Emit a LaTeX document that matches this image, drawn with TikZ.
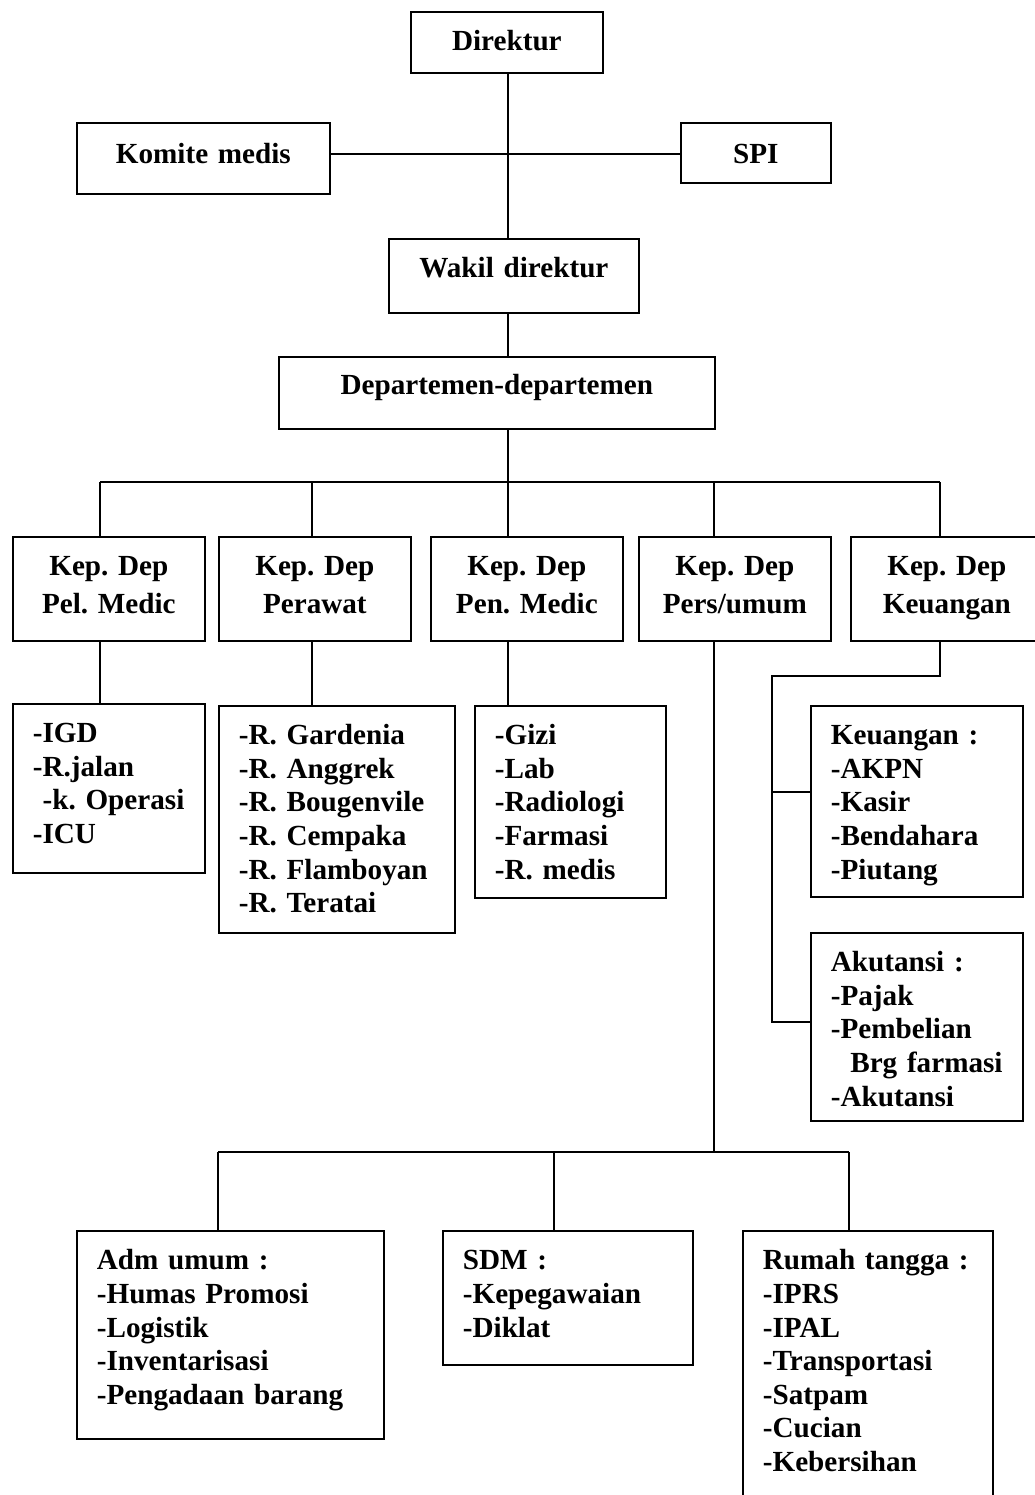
\documentclass[tikz,border=0pt]{standalone}
\usepackage{fontspec}
\setmainfont{Liberation Serif}
\tikzset{
  box/.style={draw, line width=1pt, anchor=north west, align=center, inner sep=0pt},
  lst/.style 2 args={draw, line width=1pt, anchor=north west, align=left,
    inner xsep=0.4cm, inner ysep=0pt, text width=#1, text height=0.78cm, text depth=#2},
  link/.style={line width=1pt}
}
\begin{document}
\begin{tikzpicture}[x=0.02cm, y=-0.02cm,
    every node/.style={font=\bfseries\fontsize{16.6}{19.1}\selectfont\frenchspacing}]
  \useasboundingbox (0,0) rectangle (1035,1495);
  % top
  \node[box, text width=3.84cm, text height=0.78cm, text depth=0.44cm] (dir) at (410,11) {Direktur};
  \node[box, text width=5.06cm, text height=0.82cm, text depth=0.60cm] (komite) at (76,122) {Komite medis};
  \node[box, text width=3.00cm, text height=0.82cm, text depth=0.38cm] (spi) at (680,122) {SPI};
  \node[box, text width=5.00cm, text height=0.78cm, text depth=0.70cm] (wakil) at (388,238) {Wakil direktur};
  \node[box, text width=8.72cm, text height=0.76cm, text depth=0.68cm] (dep) at (278,356) {Departemen-departemen};
  \coordinate (spine) at (508,154);
  \draw[link] (spine |- dir.south) -- (spine |- wakil.north);
  \draw[link] (komite.east |- spine) -- (spi.west |- spine);
  \draw[link] (spine |- wakil.south) -- (spine |- dep.north);
  % kepala departemen
  \foreach \i/\x/\name in {1/12/{Pel. Medic}, 2/218/{Perawat}, 3/430/{Pen. Medic},
      4/638/{Pers/umum}, 5/850/{Keuangan}}
    \node[box, text width=3.84cm, text height=0.78cm, text depth=1.3cm] (kep\i) at (\x,536)
      {Kep. Dep\\[0.09cm]\name};
  \draw[link] (spine |- dep.south) -- (508,482);
  \draw[link] (100,482) -- (940,482);
  \foreach \i/\x in {1/100, 2/312, 3/508, 4/714, 5/940} {
    \coordinate (b\i) at (\x,482);
    \draw[link] (b\i) -- (b\i |- kep\i.north);
  }
  % bagian
  \node[lst={3.04cm}{2.60cm}] (pel) at (12,703) {-IGD\\-R.jalan\\\ -k.~Operasi\\-ICU};
  \node[lst={3.92cm}{3.76cm}] (rawat) at (218,705)
    {-R.~Gardenia\\-R.~Anggrek\\-R.~Bougenvile\\-R.~Cempaka\\-R.~Flamboyan\\-R.~Teratai};
  \node[lst={3.02cm}{3.06cm}] (pen) at (474,705) {-Gizi\\-Lab\\-Radiologi\\-Farmasi\\-R.~medis};
  \node[lst={3.44cm}{3.04cm}] (keu) at (810,705) {Keuangan~:\\-AKPN\\-Kasir\\-Bendahara\\-Piutang};
  \node[lst={3.44cm}{2.98cm}] (aku) at (810,932)
    {Akutansi~:\\-Pajak\\-Pembelian\\\ \ Brg~farmasi\\-Akutansi};
  \node[lst={5.34cm}{3.38cm}] (adm) at (76,1230)
    {Adm umum~:\\-Humas Promosi\\-Logistik\\-Inventarisasi\\-Pengadaan~barang};
  \node[lst={4.20cm}{1.90cm}] (sdm) at (442,1230) {SDM~:\\-Kepegawaian\\-Diklat};
  \node[lst={4.20cm}{4.82cm}] (rt) at (742,1230)
    {Rumah~tangga~:\\-IPRS\\-IPAL\\-Transportasi\\-Satpam\\-Cucian\\-Kebersihan};
  \draw[link] (b1 |- kep1.south) -- (b1 |- pel.north);
  \draw[link] (b2 |- kep2.south) -- (b2 |- rawat.north);
  \draw[link] (b3 |- kep3.south) -- (b3 |- pen.north);
  % keuangan
  \coordinate (kc) at (772,676);
  \coordinate (kk) at (772,792);
  \coordinate (kb) at (772,1022);
  \draw[link] (b5 |- kep5.south) -- (b5 |- kc) -- (kc) -- (kb) -- (kb -| aku.west);
  \draw[link] (kk) -- (kk -| keu.west);
  % pers/umum
  \coordinate (q1) at (218,1152);
  \coordinate (q2) at (554,1152);
  \coordinate (q3) at (849,1152);
  \draw[link] (b4 |- kep4.south) -- (b4 |- q1);
  \draw[link] (q1) -- (q3);
  \draw[link] (q1) -- (q1 |- adm.north);
  \draw[link] (q2) -- (q2 |- sdm.north);
  \draw[link] (q3) -- (q3 |- rt.north);
\end{tikzpicture}
\end{document}
